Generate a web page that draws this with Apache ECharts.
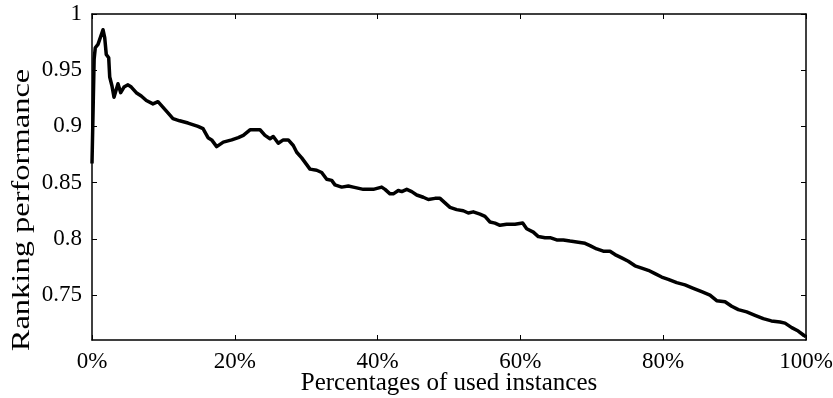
<!DOCTYPE html>
<html>
<head>
<meta charset="utf-8">
<script src="https://cdn.jsdelivr.net/npm/echarts@6/dist/echarts.min.js"></script>
<style>html,body{margin:0;padding:0;background:#fff}#c{width:833px;height:398px}</style>
</head>
<body>
<div id="c"></div>
<script>
const xPct = [0,0.3,0.46,0.84,1.54,1.78,2.0,2.34,2.48,2.80,3.08,3.26,3.64,4.02,4.48,5.04,5.50,6.20,6.90,7.61,8.54,9.24,9.80,10.64,11.34,12.28,13.45,14.85,15.55,16.25,16.76,17.46,18.39,19.57,20.49,21.19,22.13,22.83,23.53,24.23,24.93,25.39,26.09,26.79,27.49,28.19,28.67,29.37,30.07,30.53,31.47,32.17,32.87,33.57,34.03,34.97,35.90,36.60,38.00,39.40,40.57,41.04,41.74,42.20,42.90,43.38,44.08,44.78,45.48,46.40,47.10,48.04,48.74,49.44,50.14,51.08,52.00,52.70,53.40,54.34,55.04,55.74,56.44,57.14,58.08,59.24,60.32,60.88,61.81,62.51,63.45,64.15,65.08,66.01,66.95,68.11,69.05,69.75,70.69,71.61,72.55,73.25,74.19,75.11,76.05,76.99,77.91,78.85,79.79,80.71,81.89,83.05,84.22,85.39,86.55,87.49,88.66,89.59,90.52,91.69,92.86,94.02,95.15,96.36,97.06,98.00,98.91,99.72,100];
const perf = [0.867,0.960,0.970,0.973,0.986,0.979,0.964,0.961,0.944,0.936,0.926,0.927,0.938,0.930,0.935,0.937,0.935,0.930,0.927,0.923,0.920,0.922,0.918,0.912,0.907,0.905,0.903,0.900,0.898,0.890,0.888,0.882,0.886,0.888,0.890,0.892,0.897,0.897,0.897,0.892,0.889,0.891,0.885,0.888,0.888,0.883,0.877,0.872,0.866,0.862,0.861,0.859,0.853,0.852,0.848,0.846,0.847,0.846,0.844,0.844,0.846,0.844,0.840,0.840,0.843,0.842,0.844,0.842,0.839,0.837,0.835,0.836,0.836,0.832,0.828,0.826,0.825,0.823,0.824,0.822,0.820,0.815,0.814,0.812,0.813,0.813,0.814,0.809,0.806,0.802,0.801,0.801,0.799,0.799,0.798,0.797,0.796,0.794,0.791,0.789,0.789,0.786,0.783,0.780,0.776,0.774,0.772,0.769,0.766,0.764,0.761,0.759,0.756,0.753,0.750,0.745,0.744,0.740,0.737,0.735,0.732,0.729,0.727,0.726,0.725,0.721,0.718,0.714,0.713];
const xTicks = [0,20,40,60,80,100];
const yTicks = [0.75,0.8,0.85,0.9,0.95,1];
const xTitle = 'Percentages of used instances';
const yTitle = 'Ranking performance';

const font = 'Liberation Serif, Times New Roman, serif';
const chart = echarts.init(document.getElementById('c'), null, {renderer: 'canvas'});
const axLine = {show: true, onZero: false, lineStyle: {color: '#000', width: 1.5}};
const tick = {show: true, inside: true, length: 5, lineStyle: {color: '#000', width: 1}};
chart.setOption({
  animation: false,
  backgroundColor: '#fff',
  grid: {left: 92, right: 27, top: 14, bottom: 58, containLabel: false, outerBoundsMode: 'none'},
  xAxis: [{
    type: 'value', min: 0, max: 100, interval: 20, position: 'bottom',
    axisLine: axLine, axisTick: tick, splitLine: {show: false},
    axisLabel: {color: '#000', fontFamily: font, fontSize: 23, margin: 10, formatter: '{value}%'},
    name: xTitle, nameLocation: 'middle', nameGap: 31, nameMoveOverlap: false,
    nameTextStyle: {color: '#000', fontFamily: font, fontSize: 25, verticalAlign: 'top'}
  }, {
    type: 'value', min: 0, max: 100, interval: 20, position: 'top',
    axisLine: axLine, axisTick: tick, axisLabel: {show: false}, splitLine: {show: false}
  }],
  yAxis: [{
    type: 'value', min: 0.71, max: 1, position: 'left',
    axisLine: axLine,
    axisTick: Object.assign({customValues: yTicks}, tick),
    splitLine: {show: false},
    axisLabel: {color: '#000', fontFamily: font, fontSize: 23, margin: 10, customValues: yTicks,
      formatter: v => String(+v.toFixed(2))}
  }, {
    type: 'value', min: 0.71, max: 1, position: 'right',
    axisLine: axLine,
    axisTick: Object.assign({customValues: yTicks}, tick),
    axisLabel: {show: false}, splitLine: {show: false}
  }],
  graphic: [{
    type: 'text', x: 22, y: 210, rotation: Math.PI / 2, scaleX: 1.25,
    style: {text: yTitle, fill: '#000', font: '26px ' + font, align: 'center', verticalAlign: 'middle'}
  }],
  series: [{
    type: 'line', xAxisIndex: 0, yAxisIndex: 0,
    data: xPct.map((x, i) => [x, perf[i]]),
    showSymbol: false, symbol: 'none', smooth: false,
    lineStyle: {color: '#000', width: 3.5, join: 'round'}
  }]
});
</script>
</body>
</html>
